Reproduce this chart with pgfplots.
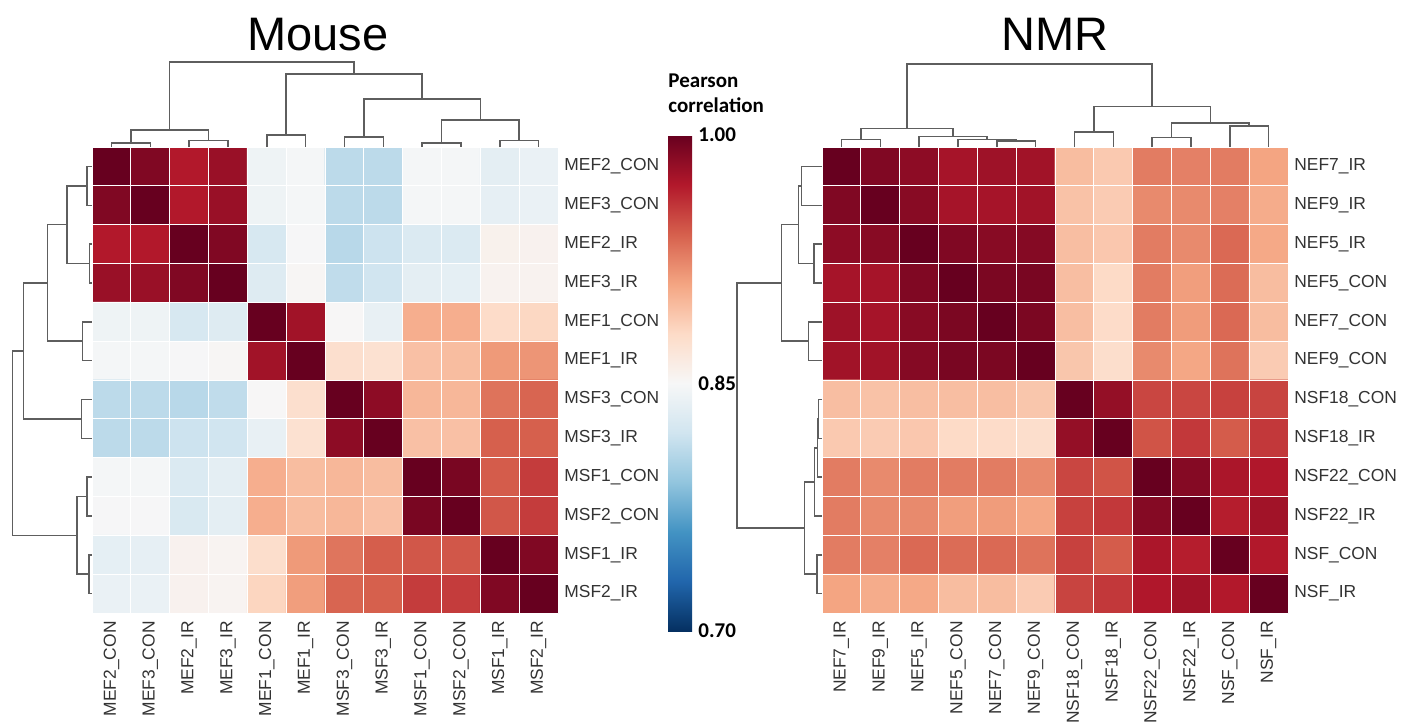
\documentclass[border=0pt]{standalone}
\usepackage{fontspec}
\setmainfont{Liberation Sans}
\newfontfamily\carlito{Carlito}
\usepackage{pgfplots}
\pgfplotsset{compat=1.18}
\usetikzlibrary{calc}
\definecolor{labc}{HTML}{333333}
\definecolor{dendc}{HTML}{5E5E5E}
\newcommand\lab{\fontsize{8.7}{10}\selectfont}
\newcommand\cbf{\carlito\bfseries\fontsize{10.5}{12.5}\selectfont}
\newcommand\ttl{\fontsize{23.5}{28}\selectfont}
\pgfplotsset{
  colormap={rdbu}{rgb255=(5,48,97) rgb255=(33,102,172) rgb255=(67,147,195) rgb255=(146,197,222) rgb255=(209,229,240) rgb255=(247,247,247) rgb255=(253,219,199) rgb255=(244,165,130) rgb255=(214,96,77) rgb255=(178,24,43) rgb255=(103,0,31)},
  heat/.style={scale only axis, width=233pt, height=233pt,
    xmin=-0.5, xmax=11.5, ymin=-0.5, ymax=11.5, y dir=reverse, enlargelimits=false,
    xtick={0,...,11}, ytick={0,...,11}, yticklabel pos=right,
    major tick length=0pt, minor tick length=0pt,
    minor xtick={-0.5,0.5,...,11.5}, minor ytick={-0.5,0.5,...,11.5},
    xminorgrids, yminorgrids, minor grid style={white, line width=0.5pt},
    axis on top, axis line style={draw=none},
    colormap name=rdbu, point meta min=0.7, point meta max=1,
    tick label style={font=\lab, text=labc},
    xticklabel style={rotate=90, anchor=east, inner sep=4pt},
    yticklabel style={inner sep=3pt}},
  dendro/.style={scale only axis, hide axis, clip=false, enlargelimits=false},
  dl/.style={draw=dendc, line width=0.75pt, no marks, line join=miter, sharp plot}
}
\begin{document}
\begin{tikzpicture}
% ---------------- Mouse heatmap ----------------
\begin{axis}[heat, at={(46pt,-306.5pt)}, anchor=south west,
  xticklabels={MEF2\_CON,MEF3\_CON,MEF2\_IR,MEF3\_IR,MEF1\_CON,MEF1\_IR,MSF3\_CON,MSF3\_IR,MSF1\_CON,MSF2\_CON,MSF1\_IR,MSF2\_IR},
  yticklabels={MEF2\_CON,MEF3\_CON,MEF2\_IR,MEF3\_IR,MEF1\_CON,MEF1\_IR,MSF3\_CON,MSF3\_IR,MSF1\_CON,MSF2\_CON,MSF1\_IR,MSF2\_IR},
  colorbar,
  colorbar style={
    at={($(parent axis.north east)+(46.5pt,6pt)$)}, anchor=north west,
    scale only axis, width=12pt, height=248pt,
    ytick={0.7,0.85,1}, yticklabels={0.70,0.85,1.00},
    yticklabel style={font=\cbf, text=black, inner sep=3pt},
    major tick length=0pt, axis line style={draw=none},
    title={Pearson\\correlation},
    title style={at={(0,1)}, anchor=south west, align=left, font=\cbf, inner sep=0pt, yshift=5pt}
  }]
\addplot[matrix plot*, mesh/cols=12, point meta=explicit] coordinates {
(0,0)[1.000] (1,0)[0.990] (2,0)[0.970] (3,0)[0.980] (4,0)[0.843] (5,0)[0.848] (6,0)[0.810] (7,0)[0.810] (8,0)[0.848] (9,0)[0.848] (10,0)[0.835] (11,0)[0.840]
(0,1)[0.990] (1,1)[1.000] (2,1)[0.970] (3,1)[0.980] (4,1)[0.843] (5,1)[0.848] (6,1)[0.810] (7,1)[0.810] (8,1)[0.848] (9,1)[0.848] (10,1)[0.837] (11,1)[0.840]
(0,2)[0.970] (1,2)[0.970] (2,2)[1.000] (3,2)[0.990] (4,2)[0.825] (5,2)[0.849] (6,2)[0.808] (7,2)[0.818] (8,2)[0.828] (9,2)[0.828] (10,2)[0.857] (11,2)[0.856]
(0,3)[0.980] (1,3)[0.980] (2,3)[0.990] (3,3)[1.000] (4,3)[0.830] (5,3)[0.852] (6,3)[0.812] (7,3)[0.820] (8,3)[0.835] (9,3)[0.836] (10,3)[0.855] (11,3)[0.855]
(0,4)[0.843] (1,4)[0.843] (2,4)[0.825] (3,4)[0.830] (4,4)[1.000] (5,4)[0.977] (6,4)[0.851] (7,4)[0.838] (8,4)[0.905] (9,4)[0.905] (10,4)[0.879] (11,4)[0.882]
(0,5)[0.848] (1,5)[0.848] (2,5)[0.849] (3,5)[0.852] (4,5)[0.977] (5,5)[1.000] (6,5)[0.876] (7,5)[0.874] (8,5)[0.895] (9,5)[0.897] (10,5)[0.915] (11,5)[0.917]
(0,6)[0.810] (1,6)[0.810] (2,6)[0.808] (3,6)[0.812] (4,6)[0.851] (5,6)[0.876] (6,6)[1.000] (7,6)[0.985] (8,6)[0.900] (9,6)[0.900] (10,6)[0.932] (11,6)[0.938]
(0,7)[0.810] (1,7)[0.810] (2,7)[0.818] (3,7)[0.820] (4,7)[0.838] (5,7)[0.874] (6,7)[0.985] (7,7)[1.000] (8,7)[0.895] (9,7)[0.895] (10,7)[0.940] (11,7)[0.940]
(0,8)[0.848] (1,8)[0.848] (2,8)[0.828] (3,8)[0.835] (4,8)[0.905] (5,8)[0.897] (6,8)[0.900] (7,8)[0.897] (8,8)[1.000] (9,8)[0.993] (10,8)[0.942] (11,8)[0.955]
(0,9)[0.849] (1,9)[0.849] (2,9)[0.826] (3,9)[0.835] (4,9)[0.905] (5,9)[0.897] (6,9)[0.900] (7,9)[0.895] (8,9)[0.993] (9,9)[1.000] (10,9)[0.944] (11,9)[0.955]
(0,10)[0.836] (1,10)[0.837] (2,10)[0.856] (3,10)[0.854] (4,10)[0.877] (5,10)[0.915] (6,10)[0.931] (7,10)[0.941] (8,10)[0.944] (9,10)[0.944] (10,10)[1.000] (11,10)[0.990]
(0,11)[0.840] (1,11)[0.840] (2,11)[0.856] (3,11)[0.854] (4,11)[0.883] (5,11)[0.913] (6,11)[0.938] (7,11)[0.940] (8,11)[0.955] (9,11)[0.955] (10,11)[0.990] (11,11)[1.000]
};
\end{axis}
% ---------------- Mouse top dendrogram ----------------
\begin{axis}[dendro, at={(46pt,-73.5pt)}, anchor=south west, width=233pt, height=42.5pt,
  xmin=-0.5, xmax=11.5, ymin=0, ymax=85]
\addplot[dl] coordinates {(0,0) (0,4.1) (1,4.1) (1,0)};
\addplot[dl] coordinates {(2,0) (2,6.5) (3,6.5) (3,0)};
\addplot[dl] coordinates {(0.5,4.1) (0.5,16.9) (2.5,16.9) (2.5,6.5)};
\addplot[dl] coordinates {(4,0) (4,12) (5,12) (5,0)};
\addplot[dl] coordinates {(6,0) (6,10) (7,10) (7,0)};
\addplot[dl] coordinates {(8,0) (8,4.1) (9,4.1) (9,0)};
\addplot[dl] coordinates {(10,0) (10,6.5) (11,6.5) (11,0)};
\addplot[dl] coordinates {(8.5,4.1) (8.5,27.2) (10.5,27.2) (10.5,6.5)};
\addplot[dl] coordinates {(6.5,10) (6.5,48.2) (9.5,48.2) (9.5,27.2)};
\addplot[dl] coordinates {(4.5,12) (4.5,73) (8,73) (8,48.2)};
\addplot[dl] coordinates {(1.5,16.9) (1.5,85) (6.25,85) (6.25,73)};
\end{axis}
% ---------------- Mouse left dendrogram ----------------
\begin{axis}[dendro, at={(46pt,-73.5pt)}, anchor=north east, width=40pt, height=233pt,
  xmin=0, xmax=80, x dir=reverse, ymin=-0.5, ymax=11.5, y dir=reverse]
\addplot[dl] coordinates {(0,0) (5,0) (5,1) (0,1)};
\addplot[dl] coordinates {(0,2) (2.7,2) (2.7,3) (0,3)};
\addplot[dl] coordinates {(5,0.5) (25,0.5) (25,2.5) (2.7,2.5)};
\addplot[dl] coordinates {(0,4) (9.3,4) (9.3,5) (0,5)};
\addplot[dl] coordinates {(25,1.5) (44.3,1.5) (44.3,4.5) (9.3,4.5)};
\addplot[dl] coordinates {(0,6) (10.7,6) (10.7,7) (0,7)};
\addplot[dl] coordinates {(44.3,3) (68.3,3) (68.3,6.5) (10.7,6.5)};
\addplot[dl] coordinates {(0,8) (5,8) (5,9) (0,9)};
\addplot[dl] coordinates {(0,10) (3,10) (3,11) (0,11)};
\addplot[dl] coordinates {(5,8.5) (15,8.5) (15,10.5) (3,10.5)};
\addplot[dl] coordinates {(68.3,4.75) (79.3,4.75) (79.3,9.5) (15,9.5)};
\end{axis}
% ---------------- NMR heatmap ----------------
\begin{axis}[heat, at={(411pt,-306.5pt)}, anchor=south west,
  xticklabels={NEF7\_IR,NEF9\_IR,NEF5\_IR,NEF5\_CON,NEF7\_CON,NEF9\_CON,NSF18\_CON,NSF18\_IR,NSF22\_CON,NSF22\_IR,NSF\_CON,NSF\_IR},
  yticklabels={NEF7\_IR,NEF9\_IR,NEF5\_IR,NEF5\_CON,NEF7\_CON,NEF9\_CON,NSF18\_CON,NSF18\_IR,NSF22\_CON,NSF22\_IR,NSF\_CON,NSF\_IR}]
\addplot[matrix plot*, mesh/cols=12, point meta=explicit] coordinates {
(0,0)[1.000] (1,0)[0.990] (2,0)[0.985] (3,0)[0.975] (4,0)[0.978] (5,0)[0.977] (6,0)[0.897] (7,0)[0.890] (8,0)[0.928] (9,0)[0.926] (10,0)[0.928] (11,0)[0.910]
(0,1)[0.990] (1,1)[1.000] (2,1)[0.987] (3,1)[0.975] (4,1)[0.975] (5,1)[0.977] (6,1)[0.894] (7,1)[0.889] (8,1)[0.922] (9,1)[0.922] (10,1)[0.926] (11,1)[0.906]
(0,2)[0.985] (1,2)[0.987] (2,2)[1.000] (3,2)[0.990] (4,2)[0.987] (5,2)[0.988] (6,2)[0.896] (7,2)[0.891] (8,2)[0.928] (9,2)[0.922] (10,2)[0.936] (11,2)[0.908]
(0,3)[0.975] (1,3)[0.975] (2,3)[0.990] (3,3)[1.000] (4,3)[0.992] (5,3)[0.993] (6,3)[0.896] (7,3)[0.880] (8,3)[0.928] (9,3)[0.913] (10,3)[0.935] (11,3)[0.897]
(0,4)[0.978] (1,4)[0.975] (2,4)[0.987] (3,4)[0.992] (4,4)[1.000] (5,4)[0.992] (6,4)[0.896] (7,4)[0.879] (8,4)[0.928] (9,4)[0.914] (10,4)[0.936] (11,4)[0.897]
(0,5)[0.977] (1,5)[0.977] (2,5)[0.988] (3,5)[0.993] (4,5)[0.992] (5,5)[1.000] (6,5)[0.892] (7,5)[0.877] (8,5)[0.922] (9,5)[0.909] (10,5)[0.932] (11,5)[0.889]
(0,6)[0.896] (1,6)[0.894] (2,6)[0.896] (3,6)[0.896] (4,6)[0.896] (5,6)[0.892] (6,6)[1.000] (7,6)[0.982] (8,6)[0.951] (9,6)[0.951] (10,6)[0.953] (11,6)[0.952]
(0,7)[0.890] (1,7)[0.889] (2,7)[0.891] (3,7)[0.880] (4,7)[0.879] (5,7)[0.877] (6,7)[0.982] (7,7)[1.000] (8,7)[0.945] (9,7)[0.957] (10,7)[0.942] (11,7)[0.957]
(0,8)[0.928] (1,8)[0.922] (2,8)[0.928] (3,8)[0.928] (4,8)[0.928] (5,8)[0.922] (6,8)[0.951] (7,8)[0.945] (8,8)[1.000] (9,8)[0.988] (10,8)[0.973] (11,8)[0.971]
(0,9)[0.928] (1,9)[0.922] (2,9)[0.922] (3,9)[0.913] (4,9)[0.914] (5,9)[0.909] (6,9)[0.953] (7,9)[0.957] (8,9)[0.988] (9,9)[1.000] (10,9)[0.968] (11,9)[0.977]
(0,10)[0.928] (1,10)[0.926] (2,10)[0.936] (3,10)[0.935] (4,10)[0.936] (5,10)[0.932] (6,10)[0.953] (7,10)[0.942] (8,10)[0.973] (9,10)[0.968] (10,10)[1.000] (11,10)[0.970]
(0,11)[0.910] (1,11)[0.906] (2,11)[0.908] (3,11)[0.897] (4,11)[0.897] (5,11)[0.889] (6,11)[0.952] (7,11)[0.957] (8,11)[0.971] (9,11)[0.977] (10,11)[0.970] (11,11)[1.000]
};
\end{axis}
% ---------------- NMR top dendrogram ----------------
\begin{axis}[dendro, at={(411pt,-73.5pt)}, anchor=south west, width=233pt, height=41.5pt,
  xmin=-0.5, xmax=11.5, ymin=0, ymax=83]
\addplot[dl] coordinates {(0,0) (0,7.3) (1,7.3) (1,0)};
\addplot[dl] coordinates {(4,0) (4,6) (5,6) (5,0)};
\addplot[dl] coordinates {(3,0) (3,7.3) (4.5,7.3) (4.5,6)};
\addplot[dl] coordinates {(2,0) (2,10.7) (3.75,10.7) (3.75,7.3)};
\addplot[dl] coordinates {(0.5,7.3) (0.5,18.6) (2.875,18.6) (2.875,10.7)};
\addplot[dl] coordinates {(6,0) (6,14.8) (7,14.8) (7,0)};
\addplot[dl] coordinates {(8,0) (8,9.7) (9,9.7) (9,0)};
\addplot[dl] coordinates {(10,0) (10,20.8) (11,20.8) (11,0)};
\addplot[dl] coordinates {(8.5,9.7) (8.5,24.2) (10.5,24.2) (10.5,20.8)};
\addplot[dl] coordinates {(6.5,14.8) (6.5,40.3) (9.5,40.3) (9.5,24.2)};
\addplot[dl] coordinates {(1.6875,18.6) (1.6875,83) (8,83) (8,40.3)};
\end{axis}
% ---------------- NMR left dendrogram ----------------
\begin{axis}[dendro, at={(411pt,-73.5pt)}, anchor=north east, width=42.5pt, height=233pt,
  xmin=0, xmax=85, x dir=reverse, ymin=-0.5, ymax=11.5, y dir=reverse]
\addplot[dl] coordinates {(0,0) (20.7,0) (20.7,1) (0,1)};
\addplot[dl] coordinates {(0,2) (8,2) (8,3) (0,3)};
\addplot[dl] coordinates {(20.7,0.5) (23.3,0.5) (23.3,2.5) (8,2.5)};
\addplot[dl] coordinates {(0,4) (13.7,4) (13.7,5) (0,5)};
\addplot[dl] coordinates {(23.3,1.5) (40.7,1.5) (40.7,4.5) (13.7,4.5)};
\addplot[dl] coordinates {(0,6) (3.3,6) (3.3,7) (0,7)};
\addplot[dl] coordinates {(3.3,6.5) (4.3,6.5) (4.3,8) (0,8)};
\addplot[dl] coordinates {(4.3,7.25) (7.3,7.25) (7.3,9) (0,9)};
\addplot[dl] coordinates {(0,10) (5,10) (5,11) (0,11)};
\addplot[dl] coordinates {(7.3,8.125) (17.5,8.125) (17.5,10.5) (5,10.5)};
\addplot[dl] coordinates {(40.7,3) (85,3) (85,9.3125) (17.5,9.3125)};
\end{axis}
% ---------------- titles ----------------
\node[anchor=base, font=\ttl, inner sep=0pt] at (159pt,-25pt) {Mouse};
\node[anchor=base, font=\ttl, inner sep=0pt] at (527.5pt,-25pt) {NMR};
\pgfresetboundingbox
\path[use as bounding box] (0pt,0pt) rectangle (706.5pt,-361.5pt);
\end{tikzpicture}
\end{document}
